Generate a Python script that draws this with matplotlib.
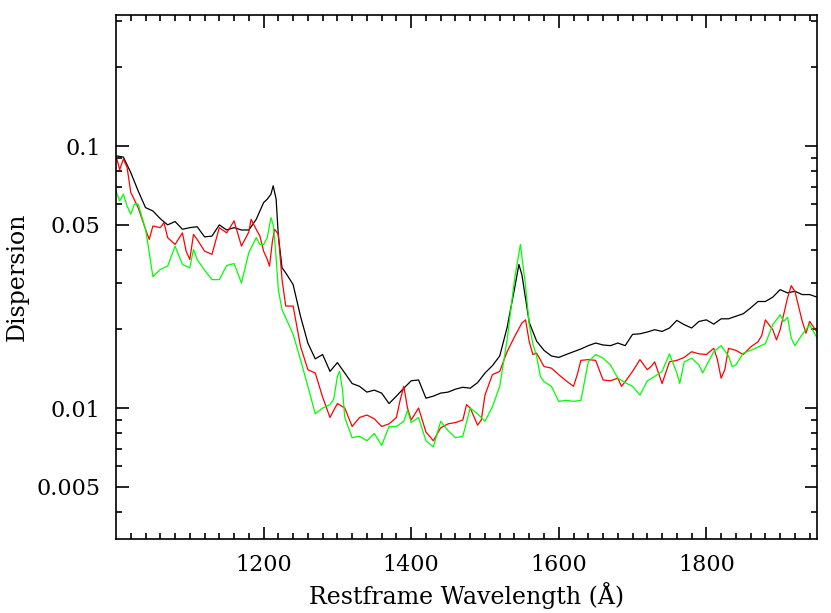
import matplotlib
matplotlib.use("Agg")
import matplotlib.pyplot as plt
from matplotlib.ticker import FixedLocator, FixedFormatter

# black: total dispersion
black_wave = [1000, 1010, 1020, 1030, 1040, 1050, 1060, 1070, 1080, 1090, 1100, 1110, 1120,
              1130, 1140, 1150, 1160, 1170, 1180, 1190, 1200, 1205, 1210, 1213, 1217, 1220,
              1225, 1230, 1240, 1250, 1260, 1270, 1280, 1290, 1300, 1310, 1320, 1330, 1340,
              1350, 1360, 1370, 1380, 1390, 1400, 1410, 1420, 1430, 1440, 1450, 1460, 1470,
              1480, 1490, 1500, 1510, 1520, 1530, 1540, 1546, 1550, 1560, 1570, 1580, 1590,
              1600, 1610, 1620, 1630, 1640, 1650, 1660, 1670, 1680, 1690, 1700, 1710, 1720,
              1730, 1740, 1750, 1760, 1770, 1780, 1790, 1800, 1810, 1820, 1830, 1840, 1850,
              1860, 1870, 1880, 1890, 1900, 1910, 1920, 1930, 1940, 1950]
black_disp = [0.0918, 0.0907, 0.0792, 0.0674, 0.0582, 0.0565, 0.0528, 0.0500, 0.0515, 0.0481,
              0.0488, 0.0492, 0.0450, 0.0453, 0.0500, 0.0478, 0.0488, 0.0478, 0.0478, 0.0525,
              0.0608, 0.0627, 0.0655, 0.0705, 0.0627, 0.0453, 0.0343, 0.0328, 0.0296, 0.0224,
              0.0177, 0.0154, 0.0160, 0.0138, 0.0149, 0.0136, 0.0124, 0.0121, 0.0115, 0.0117,
              0.0114, 0.0104, 0.0111, 0.0119, 0.0127, 0.0128, 0.0109, 0.0111, 0.0114, 0.0115,
              0.0118, 0.0120, 0.0119, 0.0125, 0.0136, 0.0145, 0.0158, 0.0203, 0.0285, 0.0353,
              0.0323, 0.0212, 0.0180, 0.0166, 0.0158, 0.0156, 0.0160, 0.0164, 0.0168, 0.0173,
              0.0177, 0.0174, 0.0173, 0.0177, 0.0173, 0.0191, 0.0192, 0.0195, 0.0199, 0.0196,
              0.0202, 0.0216, 0.0208, 0.0202, 0.0214, 0.0217, 0.0209, 0.0219, 0.0219, 0.0224,
              0.0229, 0.0241, 0.0255, 0.0255, 0.0265, 0.0283, 0.0275, 0.0279, 0.0271, 0.0271,
              0.0265]

# red
red_wave = [1000, 1005, 1010, 1015, 1020, 1030, 1040, 1045, 1050, 1060, 1065, 1070, 1080,
            1090, 1095, 1100, 1105, 1110, 1120, 1130, 1140, 1150, 1160, 1170, 1180, 1183,
            1190, 1195, 1200, 1205, 1208, 1212, 1215, 1220, 1225, 1230, 1240, 1250, 1260,
            1270, 1280, 1290, 1295, 1300, 1310, 1320, 1330, 1340, 1350, 1360, 1370, 1380,
            1385, 1390, 1395, 1400, 1410, 1420, 1430, 1440, 1450, 1460, 1470, 1475, 1480,
            1490, 1495, 1500, 1510, 1520, 1530, 1540, 1550, 1555, 1560, 1565, 1570, 1580,
            1590, 1600, 1610, 1620, 1625, 1630, 1640, 1650, 1660, 1670, 1680, 1685, 1690,
            1700, 1710, 1720, 1725, 1730, 1740, 1750, 1760, 1770, 1780, 1790, 1800, 1810,
            1815, 1820, 1825, 1830, 1840, 1850, 1860, 1870, 1875, 1880, 1890, 1895, 1900,
            1910, 1915, 1920, 1930, 1935, 1940, 1950]
red_disp = [0.0918, 0.0812, 0.0892, 0.0829, 0.0665, 0.0582, 0.0481, 0.0440, 0.0495, 0.0488,
            0.0510, 0.0447, 0.0421, 0.0466, 0.0397, 0.0369, 0.0460, 0.0440, 0.0397, 0.0386,
            0.0488, 0.0466, 0.0518, 0.0415, 0.0470, 0.0525, 0.0481, 0.0453, 0.0397, 0.0369,
            0.0348, 0.0434, 0.0481, 0.0460, 0.0309, 0.0245, 0.0245, 0.0172, 0.0140, 0.0136,
            0.0110, 0.0092, 0.0098, 0.0104, 0.0100, 0.0085, 0.0092, 0.0094, 0.0091, 0.0085,
            0.0087, 0.0092, 0.0107, 0.0121, 0.0100, 0.0090, 0.0100, 0.0081, 0.0075, 0.0084,
            0.0087, 0.0088, 0.0090, 0.0103, 0.0100, 0.0086, 0.0090, 0.0112, 0.0134, 0.0138,
            0.0164, 0.0187, 0.0211, 0.0217, 0.0179, 0.0160, 0.0162, 0.0144, 0.0142, 0.0134,
            0.0127, 0.0121, 0.0134, 0.0152, 0.0153, 0.0152, 0.0128, 0.0127, 0.0130, 0.0121,
            0.0126, 0.0138, 0.0153, 0.0140, 0.0144, 0.0150, 0.0124, 0.0150, 0.0152, 0.0156,
            0.0164, 0.0161, 0.0160, 0.0169, 0.0153, 0.0130, 0.0140, 0.0169, 0.0166, 0.0160,
            0.0171, 0.0179, 0.0189, 0.0217, 0.0199, 0.0182, 0.0199, 0.0263, 0.0293, 0.0279,
            0.0214, 0.0193, 0.0214, 0.0195]

# green
green_wave = [1000, 1005, 1010, 1015, 1020, 1025, 1030, 1040, 1045, 1050, 1060, 1070, 1080,
              1090, 1100, 1105, 1110, 1120, 1130, 1140, 1150, 1160, 1170, 1180, 1190, 1195,
              1200, 1205, 1210, 1213, 1216, 1220, 1225, 1230, 1240, 1250, 1260, 1270, 1280,
              1290, 1295, 1300, 1303, 1307, 1310, 1320, 1330, 1340, 1350, 1360, 1370, 1380,
              1390, 1395, 1400, 1410, 1420, 1430, 1440, 1450, 1460, 1470, 1480, 1490, 1500,
              1510, 1520, 1530, 1540, 1548, 1555, 1560, 1565, 1570, 1575, 1580, 1590, 1600,
              1610, 1620, 1630, 1640, 1650, 1660, 1670, 1680, 1690, 1700, 1710, 1720, 1730,
              1740, 1750, 1760, 1764, 1770, 1780, 1790, 1795, 1800, 1810, 1820, 1830, 1835,
              1840, 1850, 1860, 1870, 1880, 1890, 1900, 1905, 1910, 1915, 1920, 1930, 1940,
              1950]
green_disp = [0.0674, 0.0617, 0.0655, 0.0590, 0.0549, 0.0600, 0.0600, 0.0481, 0.0392, 0.0317,
              0.0338, 0.0348, 0.0415, 0.0353, 0.0343, 0.0403, 0.0369, 0.0336, 0.0309, 0.0309,
              0.0350, 0.0356, 0.0300, 0.0392, 0.0447, 0.0421, 0.0421, 0.0447, 0.0533, 0.0500,
              0.0409, 0.0283, 0.0237, 0.0221, 0.0191, 0.0153, 0.0121, 0.0095, 0.0100, 0.0103,
              0.0108, 0.0132, 0.0138, 0.0117, 0.0092, 0.0077, 0.0078, 0.0075, 0.0080, 0.0072,
              0.0085, 0.0085, 0.0089, 0.0098, 0.0088, 0.0092, 0.0075, 0.0071, 0.0089, 0.0082,
              0.0077, 0.0078, 0.0100, 0.0095, 0.0089, 0.0101, 0.0121, 0.0182, 0.0309, 0.0421,
              0.0292, 0.0208, 0.0175, 0.0158, 0.0132, 0.0126, 0.0121, 0.0106, 0.0107, 0.0106,
              0.0107, 0.0150, 0.0160, 0.0155, 0.0146, 0.0130, 0.0125, 0.0121, 0.0112, 0.0127,
              0.0132, 0.0138, 0.0161, 0.0136, 0.0124, 0.0150, 0.0155, 0.0146, 0.0136, 0.0145,
              0.0164, 0.0173, 0.0158, 0.0144, 0.0146, 0.0162, 0.0166, 0.0171, 0.0176, 0.0208,
              0.0227, 0.0214, 0.0222, 0.0185, 0.0173, 0.0191, 0.0208, 0.0185]

y_major = [0.005, 0.01, 0.05, 0.1]
y_major_labels = ["0.005", "0.01", "0.05", "0.1"]
y_minor = [0.004, 0.006, 0.007, 0.008, 0.009, 0.02, 0.03, 0.04, 0.06, 0.07, 0.08, 0.09,
           0.2, 0.3]
x_major = [1200, 1400, 1600, 1800]

plt.rcParams['font.family'] = ['DejaVu Serif']

fig = plt.figure(figsize=(8.31, 6.13), dpi=100)
ax = fig.add_axes([0.1396, 0.1207, 0.8436, 0.8548])

ax.plot(black_wave, black_disp, color='black', lw=0.9)
ax.plot(red_wave, red_disp, color='#ff0000', lw=0.9)
ax.plot(green_wave, green_disp, color='#00ff00', lw=0.9)

ax.set_yscale('log')
ax.set_xlim(1000, 1950)
ax.set_ylim(10 ** -2.5, 10 ** -0.5)

ax.yaxis.set_major_locator(FixedLocator(y_major))
ax.yaxis.set_major_formatter(FixedFormatter(y_major_labels))
ax.yaxis.set_minor_locator(FixedLocator(y_minor))
ax.yaxis.set_minor_formatter(FixedFormatter([]))
ax.xaxis.set_major_locator(FixedLocator(x_major))
ax.xaxis.set_minor_locator(FixedLocator(list(range(1020, 1950, 20))))

ax.tick_params(which='both', direction='in', top=True, right=True, width=1.2)
ax.tick_params(which='major', length=9, labelsize=16, pad=11)
ax.tick_params(which='minor', length=4.5)
for s in ax.spines.values():
    s.set_linewidth(1.2)

ax.set_xlabel('Restframe Wavelength (Å)', fontsize=17, labelpad=4)
ax.set_ylabel('Dispersion', fontsize=17, labelpad=6)

fig.savefig('out.png', dpi=100)
